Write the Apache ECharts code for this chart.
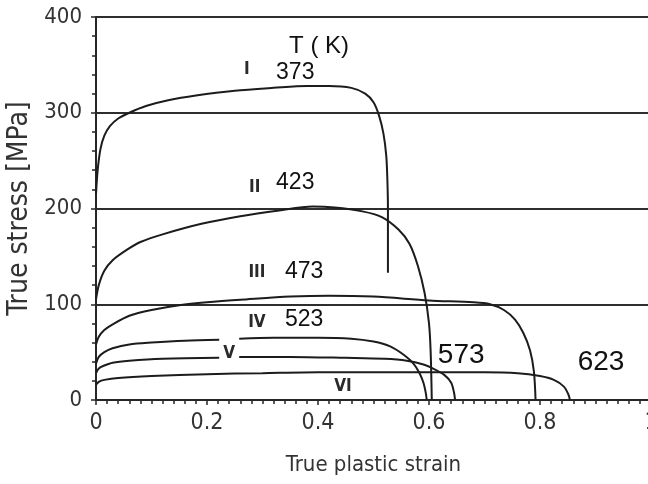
<!DOCTYPE html>
<html>
<head>
<meta charset="utf-8">
<script src="https://cdn.jsdelivr.net/npm/echarts@6/dist/echarts.min.js"></script>
<style>
  html, body { margin: 0; padding: 0; background: #fff; }
  #chart { width: 648px; height: 484px; }
</style>
</head>
<body>
<div id="chart"></div>
<script>
// strain / stress curves, one per temperature
const curveI = [[0, 215], [0.003, 240], [0.008, 262], [0.015, 276], [0.025, 286], [0.04, 294], [0.06, 300], [0.09, 307], [0.13, 313], [0.18, 318], [0.25, 323], [0.32, 326], [0.38, 328], [0.42, 328], [0.46, 326], [0.485, 320], [0.5, 311], [0.51, 297], [0.518, 278], [0.523, 255], [0.525, 230], [0.526, 200], [0.526, 133]];
const curveII = [[0, 105], [0.005, 120], [0.015, 135], [0.03, 146], [0.056, 157], [0.08, 165], [0.12, 173], [0.19, 184], [0.26, 192], [0.33, 198], [0.39, 202], [0.43, 201], [0.48, 197], [0.515, 191], [0.545, 178], [0.565, 163], [0.58, 140], [0.592, 112], [0.6, 80], [0.603, 50], [0.605, 0]];
const curveIII = [[0, 58], [0.005, 66], [0.015, 73], [0.03, 79], [0.06, 88], [0.1, 94], [0.15, 99], [0.2, 102], [0.27, 105], [0.35, 108], [0.42, 109], [0.5, 108], [0.6, 104], [0.68, 102], [0.71, 100], [0.735, 94], [0.755, 84], [0.77, 70], [0.782, 52], [0.789, 30], [0.792, 0]];
const curveIV = [[0, 38], [0.005, 45], [0.015, 50], [0.03, 54], [0.06, 58], [0.1, 60], [0.16, 62], [0.222, 63], null, [0.258, 64], [0.32, 65], [0.4, 65], [0.46, 64], [0.5, 61], [0.53, 56], [0.555, 47], [0.572, 38], [0.583, 28], [0.59, 18], [0.594, 8], [0.596, 0]];
const curveV = [[0, 28], [0.005, 33], [0.015, 36], [0.03, 39], [0.06, 41], [0.12, 43], [0.222, 44], null, [0.258, 45], [0.35, 45], [0.45, 44], [0.52, 43], [0.56, 41], [0.59, 37], [0.61, 32], [0.628, 26], [0.64, 18], [0.645, 8], [0.647, 0]];
const curveVI = [[0, 16], [0.005, 19], [0.015, 21], [0.04, 23], [0.1, 25], [0.2, 27], [0.3, 28], [0.4, 29], [0.55, 29], [0.7, 29], [0.76, 28], [0.8, 25], [0.825, 21], [0.843, 14], [0.851, 6], [0.854, 0]];

// curve names and temperatures with where they sit (strain, stress)
const romanLabels = [['I', 0.272, 345], ['II', 0.286, 222], ['III', 0.29, 133], ['IV', 0.29, 81], ['V', 0.24, 49], ['VI', 0.445, 14]];
const tempLabels = [['T ( K)', 0.402, 369], ['373', 0.359, 342], ['423', 0.359, 227], ['473', 0.375, 134], ['523', 0.375, 84]];
const bigTempLabels = [['573', 0.658, 47], ['623', 0.91, 39]];

const narrow = "'Liberation Sans Narrow', 'DejaVu Sans Condensed', sans-serif";
const regular = "'Liberation Sans', Arial, sans-serif";
const axisColor = '#262626';
const textColor = '#333';

const chart = echarts.init(document.getElementById('chart'), null, { renderer: 'canvas' });

const lineSeries = (data) => ({
    type: 'line',
    data,
    showSymbol: false,
    smooth: 0.3,
    connectNulls: false,
    lineStyle: { color: '#1c1c1c', width: 2 },
    z: 3
});

chart.setOption({
    animation: false,
    grid: { left: 96, right: -3, top: 17, bottom: 84, containLabel: false, outerBoundsMode: 'none' },
    xAxis: {
        type: 'value',
        min: 0,
        max: 1,
        interval: 0.2,
        name: 'True plastic strain',
        nameLocation: 'middle',
        nameGap: 54,
        nameTextStyle: { fontFamily: narrow, fontSize: 22, color: textColor },
        axisLine: { lineStyle: { color: axisColor, width: 2 } },
        axisTick: { length: 5, lineStyle: { color: axisColor, width: 1.5 } },
        minorTick: { show: true, splitNumber: 10, length: 4, lineStyle: { color: axisColor, width: 1.5 } },
        axisLabel: { fontFamily: narrow, fontSize: 23, color: textColor, margin: 12, showMaxLabel: true },
        splitLine: { show: false }
    },
    yAxis: {
        type: 'value',
        min: 0,
        max: 400,
        interval: 100,
        name: 'True stress [MPa]',
        nameLocation: 'middle',
        nameGap: 58,
        nameTextStyle: { fontFamily: narrow, fontSize: 28, color: textColor },
        axisLine: { show: true, lineStyle: { color: axisColor, width: 2 } },
        axisTick: { show: true, length: 5, lineStyle: { color: axisColor, width: 1.5 } },
        minorTick: { show: true, splitNumber: 5, length: 4, lineStyle: { color: axisColor, width: 1.5 } },
        axisLabel: { fontFamily: narrow, fontSize: 22, color: textColor, margin: 14 },
        splitLine: { show: true, lineStyle: { color: '#2e2e2e', width: 2.2 } }
    },
    series: [curveI, curveII, curveIII, curveIV, curveV, curveVI].map(lineSeries)
});

// put the annotations where their data coordinates land
const toText = (list, style) => list.map(([text, x, y]) => {
    const [px, py] = chart.convertToPixel({ gridIndex: 0 }, [x, y]);
    return {
        type: 'text',
        x: px,
        y: py,
        z: 10,
        style: Object.assign({ text, align: 'center', verticalAlign: 'middle' }, style)
    };
});

chart.setOption({
    graphic: [].concat(
        toText(romanLabels, { font: 'bold 17px ' + narrow, fill: '#2a2a2a' }),
        toText([tempLabels[0]], { font: '24px ' + regular, fill: '#111' }),
        toText(tempLabels.slice(1), { font: '23px ' + regular, fill: '#111' }),
        toText(bigTempLabels, { font: '28px ' + regular, fill: '#111' })
    )
});
</script>
</body>
</html>
